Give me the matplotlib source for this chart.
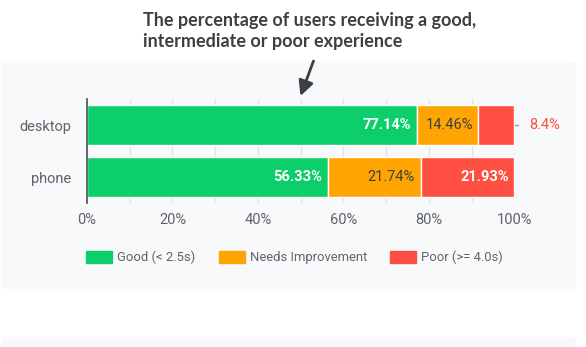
import matplotlib
matplotlib.use('Agg')
import matplotlib.pyplot as plt
from matplotlib.patches import FancyBboxPatch, Patch

# Data ########################################################################
devices = ['desktop', 'phone']
good = [77.14, 56.33]
needs_improvement = [14.46, 21.74]
poor = [8.4, 21.93]
series_names = ['Good (< 2.5s)', 'Needs Improvement', 'Poor (>= 4.0s)']
series_colors = ['#0cce6b', '#ffa400', '#ff4e42']
x_ticks = [0, 20, 40, 60, 80, 100]
title = 'The percentage of users receiving a good,\nintermediate or poor experience'

W, H = 586, 347
plt.rcParams['font.family'] = ['Roboto', 'DejaVu Sans']
fig = plt.figure(figsize=(W / 100, H / 100), dpi=100)
fig.patch.set_facecolor('white')


def fx(px):  # pixel -> figure fraction
    return px / W


def fy(py):
    return 1 - py / H


# Card backgrounds ############################################################
for top, bottom in [(61, 289), (337, 380)]:
    fig.patches.append(FancyBboxPatch(
        (fx(1.5), fy(bottom)), fx(575), (bottom - top) / H,
        boxstyle='round,pad=0,rounding_size=0.008', transform=fig.transFigure,
        facecolor='#f8f9fa', edgecolor='none', zorder=-1))

ax = fig.add_axes([fx(87), fy(203), fx(514.3 - 87), (203 - 99) / H])
ax.set_facecolor('none')
ax.set_zorder(2)

ypos = [1, 0]  # desktop on top
segments = [good, needs_improvement, poor]
lefts = [0, 0]
for vals, color in zip(segments, series_colors):
    ax.barh(ypos, vals, left=lefts, height=0.78, color=color,
            edgecolor='white', linewidth=1, zorder=3)
    lefts = [l + v for l, v in zip(lefts, vals)]

# Value labels ################################################################
pad = 5.5 * 100 / 427.3  # ~5.5 px in data units
lefts = [0, 0]
for k, (vals, color) in enumerate(zip(segments, series_colors)):
    for y, v, l in zip(ypos, vals, lefts):
        label = ('%.2f' % v).rstrip('0').rstrip('.') + '%'
        if k == 2 and v < 10:  # too narrow: label outside the bar
            ax.text(l + v + 15 * 100 / 427.3, y, label, ha='left', va='center',
                    fontsize=10.5, color=color, clip_on=False)
            ax.plot([l + v + 0.1, l + v + 0.8], [y, y], color='#9aa0a6',
                    lw=1, clip_on=False, zorder=4)
        elif k == 1:
            ax.text(l + v - pad, y, label, ha='right', va='center',
                    fontsize=10.5, color='#3c4043', zorder=5)
        else:
            ax.text(l + v - pad, y, label, ha='right', va='center',
                    fontsize=10.5, color='white', fontweight='bold', zorder=5)
    lefts = [l + v for l, v in zip(lefts, vals)]

ax.set_xlim(0, 100)
ax.set_ylim(-0.5, 1.5)
ax.set_xticks(x_ticks)
ax.set_xticklabels(['%d%%' % t for t in x_ticks])
ax.set_xticks(range(0, 101, 10), minor=True)
ax.set_yticks(ypos)
ax.set_yticklabels(devices)
ax.grid(axis='x', which='both', color='#e3e4e6', lw=1, zorder=0)
ax.tick_params(axis='both', which='both', length=0, labelsize=10.5,
               labelcolor='#5f6368')
ax.tick_params(axis='y', pad=11)
ax.tick_params(axis='x', pad=7)
for s in ['top', 'right', 'bottom']:
    ax.spines[s].set_visible(False)
ax.spines['left'].set_color('#4a4d51')
ax.spines['left'].set_linewidth(1.2)
ax.spines['left'].set_zorder(6)

# Title and arrow #############################################################
fig.text(fx(143), fy(12), title, ha='left', va='top',
         fontsize=13, fontweight='bold', color='#3c4043',
         linespacing=1.25, family=['Lato', 'DejaVu Sans'])
ax.annotate('', xy=(fx(300.5), fy(96)), xytext=(fx(313.5), fy(61)),
            xycoords='figure fraction', textcoords='figure fraction',
            arrowprops=dict(arrowstyle='-|>,head_length=0.9,head_width=0.45',
                            color='#3c4043', lw=2, shrinkA=0, shrinkB=0),
            annotation_clip=False)

# Legend ######################################################################
handles = [Patch(facecolor=c, edgecolor=c) for c in series_colors]
fig.legend(handles, series_names, loc='center',
           bbox_to_anchor=(fx(294.5), fy(257.5)), ncol=3, frameon=False,
           fontsize=9.4, labelcolor='#5f6368', handlelength=2.0,
           handleheight=1.02, handletextpad=0.38, columnspacing=1.78,
           borderpad=0, borderaxespad=0)

fig.savefig('out.png', dpi=100, facecolor='white')
